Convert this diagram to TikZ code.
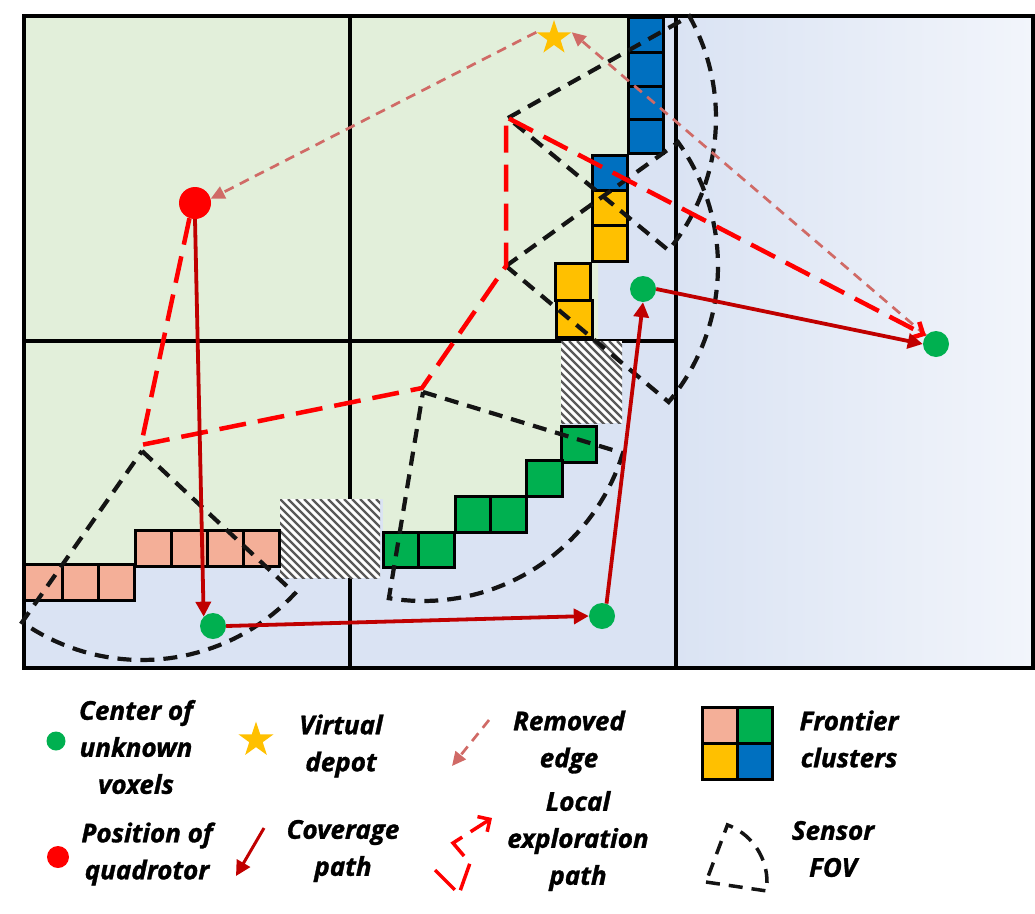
\documentclass[tikz,border=0pt]{standalone}
\usepackage{fontspec}
\setmainfont{Open Sans}[BoldItalicFeatures={FakeBold=1.2}]
\usetikzlibrary{arrows.meta,shapes.geometric}
\definecolor{knownbg}{HTML}{E2EFDA}
\definecolor{unknownbg}{HTML}{DAE3F3}
\definecolor{fadebg}{HTML}{F2F5FB}
\definecolor{fblue}{HTML}{0070C0}
\definecolor{fyellow}{HTML}{FFC000}
\definecolor{fgreen}{HTML}{00B050}
\definecolor{fsalmon}{HTML}{F4AF98}
\definecolor{covred}{HTML}{C00000}
\definecolor{locred}{HTML}{FF0000}
\definecolor{remred}{HTML}{D06A66}
\definecolor{hatchgray}{HTML}{5A5A5A}
\begin{document}
\begin{tikzpicture}[x=1pt,y=-1pt,
  gridline/.style={line width=3.5pt, draw=black},
  fcell/.style={draw=black, line width=3pt},
  fov/.style={draw=black!92, line width=4.2pt, dash pattern=on 14pt off 9pt, line join=miter},
  covpath/.style={draw=covred, line width=3.8pt, -{Triangle[length=15pt,width=15pt]}},
  locpath/.style={draw=locred, line width=4.5pt, dash pattern=on 27pt off 12pt, -{Straight Barb[length=9pt,width=18pt]}},
  removed/.style={draw=remred, line width=2.7pt, dash pattern=on 10pt off 7pt, -{Triangle[length=14pt,width=13pt]}},
  ukdot/.style={circle, fill=fgreen, inner sep=0pt, minimum size=26pt},
  quaddot/.style={circle, fill=red, inner sep=0pt, minimum size=32pt},
  depot/.style={star, star points=5, star point ratio=2.6, fill=fyellow, inner sep=0pt, minimum size=36pt},
  legtext/.style={font=\fontsize{26}{37}\selectfont\bfseries\itshape, align=center, text=black},
  hatchline/.style={draw=hatchgray, line width=2.4pt},
]
\useasboundingbox (0,0) rectangle (1035,913);
% backgrounds
\fill[unknownbg] (24,16) rectangle (676,668);
\shade[left color=unknownbg, right color=fadebg] (676,16) rectangle (1033,668);
\fill[knownbg] (24,16) -- (628,16) -- (628,155) -- (592,155) -- (592,262) -- (598,262) -- (598,341)
  -- (561,341) -- (561,460) -- (526,460) -- (526,496) -- (455,496) -- (455,532) -- (383,532)
  -- (383,499) -- (280,499) -- (280,530) -- (135,530) -- (135,564) -- (24,564) -- cycle;
% grid
\draw[gridline] (24,16) rectangle (1033,668);
\draw[gridline] (350,16) -- (350,668);
\draw[gridline] (676,16) -- (676,668);
\draw[gridline] (24,341) -- (676,341);
% hatched cells
\begin{scope}
  \fill[white] (280,499) rectangle (380,578);
  \clip (280,499) rectangle (380,578);
  \foreach \k in {-96,-88,...,105} \draw[hatchline] (280+\k,499) -- ++(100,100);
\end{scope}
\begin{scope}
  \fill[white] (561,341) rectangle (622,423);
  \clip (561,341) rectangle (622,423);
  \foreach \k in {-96,-88,...,70} \draw[hatchline] (561+\k,341) -- ++(100,100);
\end{scope}
% frontier cells
\foreach \ya/\yb in {17/52,52/86,86/119,119/153} \draw[fcell, fill=fblue] (628,\ya) rectangle (663,\yb);
\draw[fcell, fill=fblue] (592,155) rectangle (627,190);
\draw[fcell, fill=fyellow] (592,190) rectangle (627,225);
\draw[fcell, fill=fyellow] (592,225) rectangle (627,261);
\draw[fcell, fill=fyellow] (555,263) rectangle (590,300);
\draw[fcell, fill=fyellow] (556,300) rectangle (592,337);
\draw[fcell, fill=fgreen] (561,426) rectangle (596,462);
\draw[fcell, fill=fgreen] (526,460) rectangle (562,496);
\draw[fcell, fill=fgreen] (455,496) rectangle (490,532);
\draw[fcell, fill=fgreen] (490,496) rectangle (526,532);
\draw[fcell, fill=fgreen] (383,532) rectangle (418,567);
\draw[fcell, fill=fgreen] (418,532) rectangle (454,567);
\foreach \xa/\xb in {24/62,62/98,98/134} \draw[fcell, fill=fsalmon] (\xa,564) rectangle (\xb,600);
\foreach \xa/\xb in {135/171,171/207,207/243,243/279} \draw[fcell, fill=fsalmon] (\xa,530) rectangle (\xb,566);
% sensor FOVs
\draw[fov] (142,451) -- plot[domain=43:125, samples=40] ({142+209*cos(\x)}, {451+209*sin(\x)}) -- cycle;
\draw[fov] (423,392) -- plot[domain=17:99.4, samples=40] ({423+209*cos(\x)}, {392+209*sin(\x)}) -- cycle;
\draw[fov] (508,118) -- plot[domain=-29.3:39.5, samples=40] ({508+208*cos(\x)}, {118+208*sin(\x)}) -- cycle;
\draw[fov] (506,266) -- plot[domain=-35.7:39.9, samples=40] ({506+212*cos(\x)}, {266+212*sin(\x)}) -- cycle;
% nodes
\node[quaddot] (Q) at (195,203) {};
\node[ukdot] (A) at (213,626) {};
\node[ukdot] (B) at (602,616) {};
\node[ukdot] (C) at (643,289) {};
\node[ukdot] (D) at (936,344) {};
\node[depot] (S) at (554,38) {};
% removed edges
\draw[removed] (S.outer point 2) -- (Q.15);
\draw[removed] (D.140) -- (S.outer point 5);
% local exploration path
\draw[locpath] (Q.250) -- (141,445) -- (422,388) -- (506,266) -- (506,117) -- (D.140);
% coverage path
\draw[covpath] (Q.south) -- (A.north west);
\draw[covpath] (A.east) -- (B.west);
\draw[covpath] (B.70) -- (C.south);
\draw[covpath] (C.east) -- (D.west);
% legend
\node[ukdot, minimum size=19pt] (lgU) at (56,741) {};
\node[legtext] (tU) at (136,747) {Center of\\unknown\\voxels};
\node[depot, minimum size=37pt] (lgS) at (256,740) {};
\node[legtext] (tS) at (341,746) {Virtual\\depot};
\coordinate (lgR1) at (489,720);
\coordinate (lgR2) at (452,766);
\draw[removed] (lgR1) -- (lgR2);
\node[legtext] (tR) at (569,742) {Removed\\edge};
\draw[fcell, fill=fsalmon] (702,707) rectangle (737,743);
\draw[fcell, fill=fgreen] (737,707) rectangle (772,743);
\draw[fcell, fill=fyellow] (702,743) rectangle (737,779);
\draw[fcell, fill=fblue] (737,743) rectangle (772,779);
\node[legtext] (tF) at (849,739) {Frontier\\clusters};
\node[quaddot, minimum size=22pt] (lgQ) at (58,857) {};
\node[legtext] (tQ) at (147,854) {Position of\\quadrotor};
\coordinate (lgC1) at (264,828);
\coordinate (lgC2) at (236,876);
\draw[covpath, line width=3pt] (lgC1) -- (lgC2);
\node[legtext] (tC) at (343,851) {Coverage\\path};
\coordinate (lgL1) at (435,870);
\coordinate (lgL2) at (492,818);
\draw[locpath, line width=3.5pt, dash pattern=on 28pt off 10pt] (lgL1) -- (459,894) -- (470,863) -- (453,843) -- (lgL2);
\node[legtext] (tL) at (578,841) {Local\\exploration\\path};
\draw[fov, line width=3.5pt] (706,882) -- plot[domain=8.4:-69.4, samples=20] ({706+61*cos(\x)}, {882+61*sin(\x)}) -- cycle;
\node[legtext] (tV) at (833,849) {Sensor\\FOV};
\end{tikzpicture}
\end{document}
